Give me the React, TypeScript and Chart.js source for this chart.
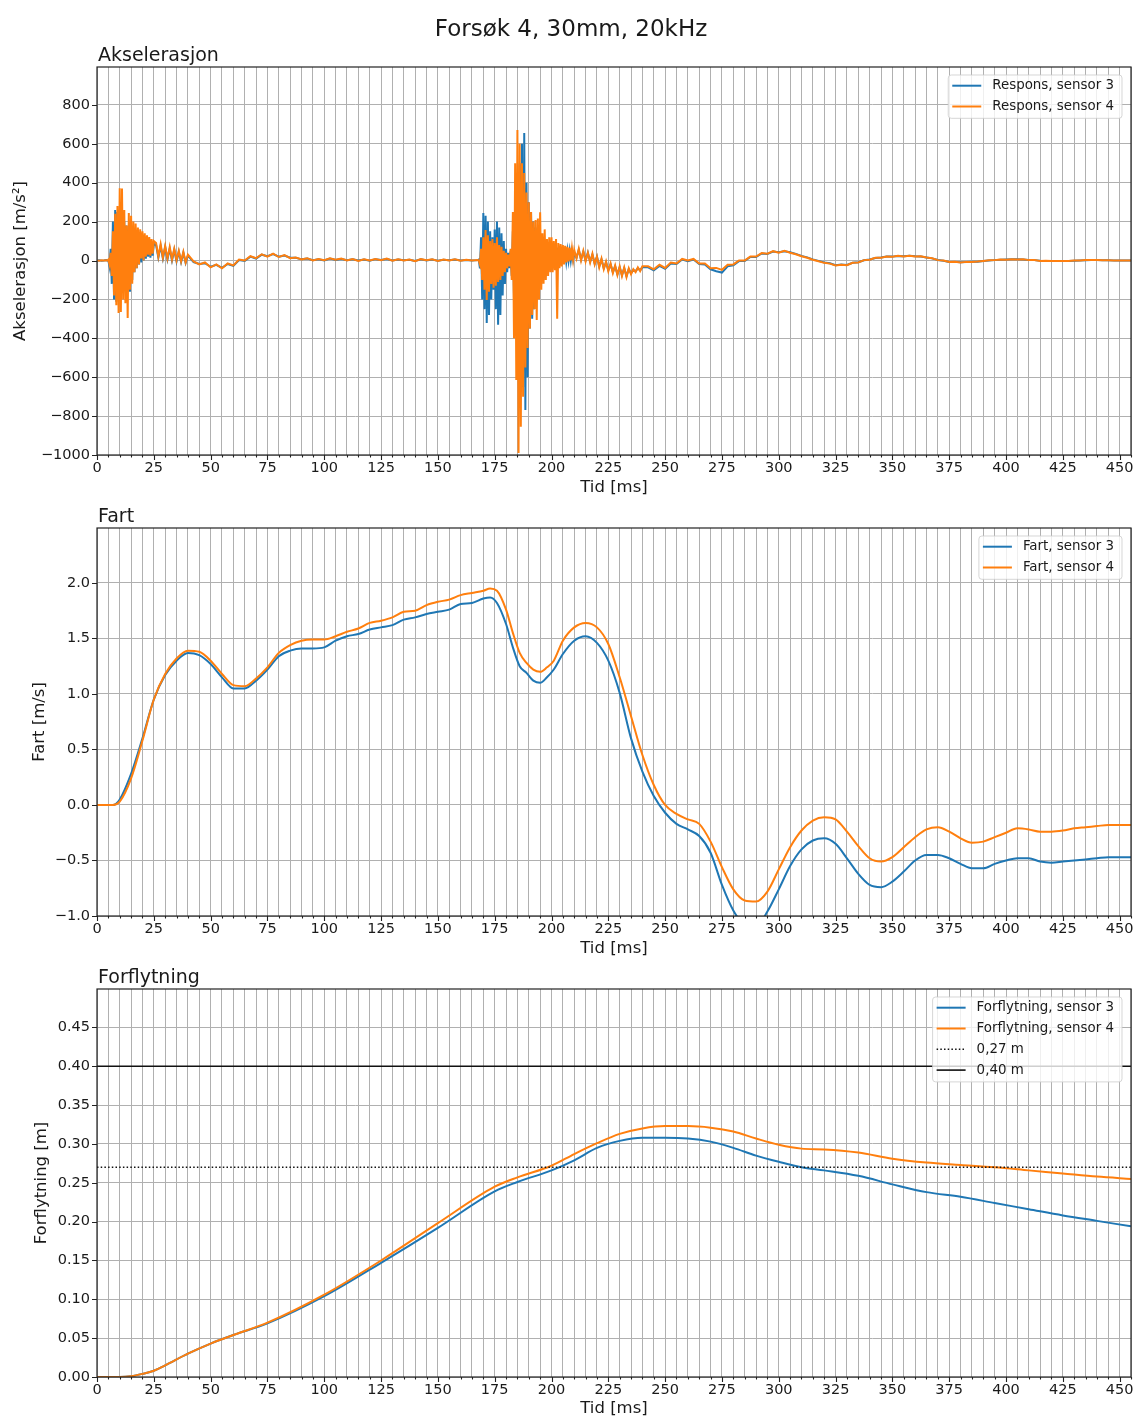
import React, { useEffect, useRef } from 'react';
import { Chart, registerables } from 'chart.js';

Chart.register(...registerables);

const FONT = '"DejaVu Sans", "Liberation Sans", sans-serif';
const TEXT = '#1a1a1a';
const GRID = '#b0b0b0';
const BLUE = '#1f77b4';
const ORANGE = '#ff7f0e';
const X_MAX = 455;

// ---------- Acceleration (m/s^2), piecewise sampled segments ----------
const accSegStart = [0, 4.5, 26, 42.5, 168, 211, 242.5];
const accSegStep = [1, 0.5, 1, 2.5, 0.5, 1, 2.5];

const accA3 = [0, 1, -1, 0, 2];
const accA4 = [0, -1, 1, 0, 1];

const accB3 = [0, 0, -30, 60, -120, 200, -200, 260, -212, 250, -190, 230, -170, 210, -150, 200, -140, 180, -130, 160, -160, 170, -100, 150, -60, 140, -40, 150, -20, 130, -10, 120, 0, 110, 10, 100, 20, 95, 15, 90, 25, 85];
const accB4 = [0, 5, -20, 40, -80, 150, -180, 240, -230, 280, -270, 372, -265, 370, -200, 260, -220, 180, -296, 244, -150, 230, -120, 200, -60, 190, -40, 170, -20, 160, 10, 150, 0, 140, 20, 130, 30, 120, 25, 110, 35, 100];

const accC3 = [80, 15, 75, 10, 70, 5, 60, 0, 55, -5, 45, -8, 40, -12, 25];
const accC4 = [90, 20, 85, 15, 75, 10, 70, 5, 60, 0, 50, -5, 45, -10, 30];

const accD3 = [-8, -18, -14, -32, -22, -38, -18, -28, 2, -2, 20, 10, 30, 22, 33, 20, 26, 14, 14, 6, 10, 2, 6, 0, 10, 3, 8, 1, 6, 0, 5, -1, 7, 3, 8, 0, 5, 1, 4, -2, 6, 0, 5, -1, 4, 1, 5, 0, 3, 0, 2];
const accD4 = [-5, -20, -10, -35, -20, -40, -15, -25, 5, 0, 22, 12, 32, 20, 35, 18, 28, 12, 15, 5, 12, 0, 8, 2, 12, 4, 10, 0, 8, -2, 6, 0, 8, 2, 10, -1, 6, 0, 5, -3, 7, 1, 6, -2, 5, 0, 6, -1, 4, 0, 3];

const accE3 = [5, -40, 120, -200, 244, -250, 230, -321, 200, -280, 150, -200, 120, -150, 160, -250, 200, -330, 170, -280, 140, -180, 100, -120, 60, -60, 40, -40, 50, -80, 150, -200, 300, -350, 400, -500, 500, -550, 600, -650, 655, -769, 400, -600, 300, -350, 250, -300, 200, -250, 170, -180, 150, -150, 130, -120, 110, -100, 100, -80, 90, -60, 85, -50, 80, -40, 75, -30, 70, -25, 65, -20, 60, -15, 55, -10, 55, -5, 50, 0, 50, 0, 45, 5, 40];
const accE4 = [0, -20, 60, -100, 120, -150, 157, -203, 130, -160, 100, -120, 110, -140, 90, -130, 120, -110, 80, -100, 70, -80, 50, -60, 40, -40, 30, -30, 60, -100, 250, -400, 500, -614, 671, -990, 600, -855, 500, -700, 450, -550, 350, -450, 300, -350, 250, -280, 200, -250, 208, -306, 216, -200, 248, -150, 140, -120, 160, -100, 110, -80, 120, -60, 120, -60, 100, -50, 110, -300, 90, -40, 85, -30, 80, -20, 75, -10, 70, -5, 65, 0, 60, 5, 55];

const accF3 = [15, 55, 5, 45, 0, 40, -5, 30, -15, 20, -30, 5, -40, -10, -50, -20, -60, -30, -70, -35, -75, -40, -80, -45, -65, -50, -55, -40, -50, -35];
const accF4 = [10, 60, 0, 50, -5, 40, -10, 35, -20, 20, -35, 10, -45, -5, -55, -15, -65, -25, -75, -30, -80, -35, -85, -40, -70, -45, -60, -35, -55, -30];

const accG3 = [-35, -50, -28, -42, -15, -18, 5, -3, 5, -18, -20, -45, -55, -62, -30, -25, -3, -2, 18, 18, 36, 34, 46, 42, 48, 42, 34, 24, 16, 6, -2, -10, -14, -24, -21, -23, -12, -9, 1, 5, 13, 15, 20, 20, 23, 22, 24, 22, 21, 16, 11, 3, -1, -7, -7, -9, -8, -6, -6, -2, 0, 2, 4, 5, 6, 6, 5, 3, 2, -1, -2, -3, -3, -2, -2, -1, 0, 1, 2, 2, 1, 1, 0, 0, 0, 0];
const accG4 = [-30, -45, -22, -38, -10, -15, 8, 0, 8, -15, -15, -40, -38, -48, -22, -20, 0, 0, 20, 20, 38, 35, 48, 40, 50, 40, 32, 22, 14, 4, -4, -12, -16, -26, -22, -24, -12, -10, 2, 4, 14, 14, 21, 19, 24, 21, 25, 21, 22, 15, 12, 2, 0, -8, -6, -10, -7, -7, -5, -2, 1, 2, 5, 4, 7, 5, 6, 2, 2, -2, -1, -3, -3, -2, -2, 0, 0, 2, 2, 2, 1, 1, 0, 0, 0, 0];

const acc3Segs = [accA3, accB3, accC3, accD3, accE3, accF3, accG3];
const acc4Segs = [accA4, accB4, accC4, accD4, accE4, accF4, accG4];

// ---------- Velocity (m/s) ----------
const velT = [0, 7, 10, 15, 20, 25, 30, 35, 40, 45, 50, 55, 60, 65, 70, 75, 80, 85, 90, 95, 100, 105, 110, 115, 120, 125, 130, 135, 140, 145, 150, 155, 160, 165, 170, 173, 176, 180, 183, 186, 189, 192, 195, 198, 201, 205, 210, 215, 220, 225, 230, 235, 240, 245, 250, 255, 260, 265, 270, 275, 280, 285, 290, 295, 300, 305, 310, 315, 320, 325, 330, 335, 340, 345, 350, 355, 360, 365, 370, 375, 380, 385, 390, 395, 400, 405, 410, 415, 420, 425, 430, 435, 440, 445, 450, 455];
const vel3 = [0, 0, 0.05, 0.28, 0.6, 0.95, 1.17, 1.3, 1.37, 1.35, 1.27, 1.15, 1.05, 1.05, 1.12, 1.22, 1.34, 1.39, 1.41, 1.41, 1.42, 1.48, 1.52, 1.54, 1.58, 1.6, 1.62, 1.67, 1.69, 1.72, 1.74, 1.76, 1.81, 1.82, 1.86, 1.87, 1.82, 1.63, 1.42, 1.25, 1.19, 1.12, 1.1, 1.15, 1.22, 1.36, 1.48, 1.52, 1.46, 1.3, 1.01, 0.6, 0.3, 0.08, -0.07, -0.17, -0.22, -0.28, -0.43, -0.72, -0.95, -1.08, -1.1, -0.96, -0.76, -0.55, -0.4, -0.32, -0.3, -0.35, -0.48, -0.62, -0.72, -0.74, -0.69, -0.6, -0.5, -0.45, -0.45, -0.48, -0.53, -0.57, -0.57, -0.53, -0.5, -0.48, -0.48, -0.51, -0.52, -0.51, -0.5, -0.49, -0.48, -0.47, -0.47, -0.47];
const vel4 = [0, 0, 0.03, 0.24, 0.58, 0.95, 1.18, 1.32, 1.39, 1.38, 1.3, 1.18, 1.08, 1.07, 1.14, 1.24, 1.37, 1.44, 1.48, 1.49, 1.49, 1.52, 1.56, 1.59, 1.64, 1.66, 1.69, 1.74, 1.75, 1.8, 1.83, 1.85, 1.89, 1.91, 1.93, 1.95, 1.93, 1.76, 1.55, 1.37, 1.28, 1.22, 1.2, 1.24, 1.3, 1.48, 1.6, 1.64, 1.6, 1.45, 1.15, 0.8, 0.45, 0.18, 0.0, -0.08, -0.13, -0.17, -0.33, -0.56, -0.76, -0.86, -0.87, -0.78, -0.58, -0.38, -0.23, -0.14, -0.11, -0.13, -0.24, -0.37, -0.48, -0.51, -0.47, -0.38, -0.29, -0.22, -0.2, -0.24, -0.3, -0.34, -0.33, -0.29, -0.25, -0.21, -0.22, -0.24, -0.24, -0.23, -0.21, -0.2, -0.19, -0.18, -0.18, -0.18];

// ---------- Displacement (m) ----------
const dispT = [0, 10, 15, 20, 25, 30, 40, 50, 60, 75, 100, 125, 150, 175, 185, 200, 210, 220, 230, 240, 250, 260, 270, 280, 290, 300, 310, 320, 335, 350, 365, 380, 395, 410, 425, 440, 455];
const disp3 = [0, 0, 0.001, 0.004, 0.008, 0.015, 0.03, 0.043, 0.054, 0.069, 0.104, 0.147, 0.192, 0.239, 0.251, 0.266, 0.279, 0.295, 0.304, 0.308, 0.308, 0.307, 0.303, 0.295, 0.285, 0.277, 0.27, 0.266, 0.259, 0.248, 0.238, 0.232, 0.224, 0.216, 0.208, 0.201, 0.194];
const disp4 = [0, 0, 0.001, 0.004, 0.008, 0.015, 0.03, 0.043, 0.054, 0.07, 0.106, 0.15, 0.198, 0.245, 0.257, 0.272, 0.287, 0.301, 0.313, 0.32, 0.323, 0.323, 0.321, 0.316, 0.307, 0.299, 0.294, 0.293, 0.289, 0.281, 0.276, 0.273, 0.27, 0.266, 0.262, 0.258, 0.255];
const limitLow = 0.27;
const limitHigh = 0.4;

// ---------- Tick values ----------
const accTicks = [-1000, -800, -600, -400, -200, 0, 200, 400, 600, 800];
const velTicks = [-1, -0.5, 0, 0.5, 1, 1.5, 2];
const dispTicks = [0, 0.05, 0.1, 0.15, 0.2, 0.25, 0.3, 0.35, 0.4, 0.45];

// ---------- Labels ----------
const SUPTITLE = 'Forsøk 4, 30mm, 20kHz';
const accLabels = ['Respons, sensor 3', 'Respons, sensor 4'];
const velLabels = ['Fart, sensor 3', 'Fart, sensor 4'];
const dispLabels = ['Forflytning, sensor 3', 'Forflytning, sensor 4', '0,27 m', '0,40 m'];

function buildSegments(segs: number[][]) {
  const out: { x: number; y: number }[] = [];
  segs.forEach((vals, si) => {
    vals.forEach((v, i) => out.push({ x: accSegStart[si] + i * accSegStep[si], y: v }));
  });
  return out;
}
function zip(t: number[], v: number[]) {
  return v.map((y, i) => ({ x: t[i], y }));
}
const minus = (s: string) => s.replace('-', '\u2212');

type LegendItem = { label: string; color: string; width: number; dash?: number[] };

function framePlugin(title: string, legend: LegendItem[], suptitle?: string) {
  return {
    id: 'frame',
    afterDraw(chart: any) {
      const { ctx, chartArea: a, scales } = chart;
      ctx.save();
      ctx.setLineDash([]);
      // tick marks
      ctx.strokeStyle = '#222';
      ctx.lineWidth = 1.1;
      ctx.beginPath();
      scales.x.ticks.forEach((t: any) => {
        const p = Math.round(scales.x.getPixelForValue(t.value)) + 0.5;
        const major = Math.abs(t.value % 25) < 1e-6;
        ctx.moveTo(p, a.bottom);
        ctx.lineTo(p, a.bottom + (major ? 5 : 2.5));
      });
      scales.y.ticks.forEach((t: any) => {
        const p = Math.round(scales.y.getPixelForValue(t.value)) + 0.5;
        ctx.moveTo(a.left - 5, p);
        ctx.lineTo(a.left, p);
      });
      ctx.stroke();
      // spines
      ctx.lineWidth = 1.2;
      ctx.strokeRect(a.left, a.top, a.right - a.left, a.bottom - a.top);
      // titles
      ctx.fillStyle = TEXT;
      ctx.textBaseline = 'alphabetic';
      if (suptitle) {
        ctx.font = `23px ${FONT}`;
        ctx.textAlign = 'center';
        ctx.fillText(suptitle, 571, 35.5);
      }
      ctx.font = `19px ${FONT}`;
      ctx.textAlign = 'left';
      ctx.fillText(title, a.left + 1, a.top - 6.5);
      // legend
      const fs = 13.4;
      ctx.font = `${fs}px ${FONT}`;
      const tw = Math.max(...legend.map((it) => ctx.measureText(it.label).width));
      const right = a.right - 9;
      const top = a.top + 8;
      const w = tw + 52;
      const h = (legend.length - 1) * 20.8 + 22.5;
      const left = right - w;
      ctx.beginPath();
      const r = 3;
      ctx.moveTo(left + r, top);
      ctx.lineTo(right - r, top);
      ctx.quadraticCurveTo(right, top, right, top + r);
      ctx.lineTo(right, top + h - r);
      ctx.quadraticCurveTo(right, top + h, right - r, top + h);
      ctx.lineTo(left + r, top + h);
      ctx.quadraticCurveTo(left, top + h, left, top + h - r);
      ctx.lineTo(left, top + r);
      ctx.quadraticCurveTo(left, top, left + r, top);
      ctx.closePath();
      ctx.fillStyle = 'rgba(255,255,255,0.8)';
      ctx.fill();
      ctx.strokeStyle = 'rgba(204,204,204,0.8)';
      ctx.lineWidth = 1;
      ctx.stroke();
      legend.forEach((it, i) => {
        const cy = top + 10.7 + i * 20.8;
        ctx.strokeStyle = it.color;
        ctx.lineWidth = it.width;
        ctx.setLineDash(it.dash || []);
        ctx.beginPath();
        ctx.moveTo(left + 4, cy);
        ctx.lineTo(left + 33, cy);
        ctx.stroke();
        ctx.setLineDash([]);
        ctx.fillStyle = TEXT;
        ctx.textAlign = 'left';
        ctx.textBaseline = 'middle';
        ctx.fillText(it.label, left + 44, cy);
      });
      ctx.restore();
    },
  };
}

function makeOptions(p: {
  ticks: number[]; ymin: number; ymax: number; fmt: (v: number) => string;
  ylabel: string; yTitlePad: number; padTop: number; xHeight: number; xTitlePad: number;
}): any {
  return {
    responsive: false,
    animation: false,
    events: [],
    layout: { padding: { top: p.padTop, right: 4, left: 0, bottom: 0 } },
    plugins: { legend: { display: false }, tooltip: { enabled: false }, title: { display: false } },
    elements: { point: { radius: 0 } },
    scales: {
      x: {
        type: 'linear',
        min: 0,
        max: X_MAX,
        ticks: {
          stepSize: 5,
          autoSkip: false,
          maxRotation: 0,
          minRotation: 0,
          includeBounds: false,
          padding: 5,
          color: TEXT,
          font: { size: 14.5, family: FONT },
          callback: (v: number) => (Math.abs(v % 25) < 1e-6 ? String(Math.round(v)) : ''),
        },
        grid: { color: GRID, lineWidth: 1, drawTicks: false },
        border: { display: false },
        title: {
          display: true,
          text: 'Tid [ms]',
          color: TEXT,
          font: { size: 16.5, family: FONT },
          padding: { top: 0, bottom: p.xTitlePad },
        },
        afterFit: (s: any) => {
          s.height = p.xHeight;
          s.paddingLeft = 0;
          s.paddingRight = 0;
        },
      },
      y: {
        type: 'linear',
        min: p.ymin,
        max: p.ymax,
        afterBuildTicks: (s: any) => {
          s.ticks = p.ticks.map((v) => ({ value: v }));
        },
        ticks: {
          padding: 7,
          color: TEXT,
          font: { size: 14.5, family: FONT },
          callback: (v: number) => p.fmt(v),
        },
        grid: { color: GRID, lineWidth: 1, drawTicks: false },
        border: { display: false },
        title: {
          display: true,
          text: p.ylabel,
          color: TEXT,
          font: { size: 16.5, family: FONT },
          padding: { top: p.yTitlePad, bottom: 0 },
        },
        afterFit: (s: any) => {
          s.width = 97;
          s.paddingTop = 0;
          s.paddingBottom = 0;
        },
      },
    },
  };
}

function lineDs(label: string, data: any[], color: string, order: number, smooth: boolean, width = 2, dash: number[] = []) {
  return {
    label,
    data,
    borderColor: color,
    backgroundColor: color,
    borderWidth: width,
    borderDash: dash,
    pointRadius: 0,
    fill: false,
    order,
    tension: smooth ? 0.4 : 0,
    cubicInterpolationMode: smooth ? 'monotone' : 'default',
  };
}

export default function App() {
  const r1 = useRef<HTMLCanvasElement>(null);
  const r2 = useRef<HTMLCanvasElement>(null);
  const r3 = useRef<HTMLCanvasElement>(null);

  useEffect(() => {
    document.body.style.margin = '0';
    Chart.defaults.font.family = FONT;

    const accChart = new Chart(r1.current!, {
      type: 'line',
      data: {
        datasets: [
          lineDs(accLabels[0], buildSegments(acc3Segs), BLUE, 2, false, 2),
          lineDs(accLabels[1], buildSegments(acc4Segs), ORANGE, 1, false, 2),
        ],
      },
      options: makeOptions({
        ticks: accTicks, ymin: -1000, ymax: 995, fmt: (v) => minus(String(Math.round(v))),
        ylabel: 'Akselerasjon [m/s²]', yTitlePad: 11, padTop: 67, xHeight: 50, xTitlePad: 7,
      }),
      plugins: [
        framePlugin('Akselerasjon', [
          { label: accLabels[0], color: BLUE, width: 2 },
          { label: accLabels[1], color: ORANGE, width: 2 },
        ], SUPTITLE),
      ],
    } as any);

    const velChart = new Chart(r2.current!, {
      type: 'line',
      data: {
        datasets: [
          lineDs(velLabels[0], zip(velT, vel3), BLUE, 2, true),
          lineDs(velLabels[1], zip(velT, vel4), ORANGE, 1, true),
        ],
      },
      options: makeOptions({
        ticks: velTicks, ymin: -1, ymax: 2.495, fmt: (v) => minus(v.toFixed(1)),
        ylabel: 'Fart [m/s]', yTitlePad: 30, padTop: 23, xHeight: 50, xTitlePad: 7,
      }),
      plugins: [
        framePlugin('Fart', [
          { label: velLabels[0], color: BLUE, width: 2 },
          { label: velLabels[1], color: ORANGE, width: 2 },
        ]),
      ],
    } as any);

    const dispChart = new Chart(r3.current!, {
      type: 'line',
      data: {
        datasets: [
          lineDs(dispLabels[0], zip(dispT, disp3), BLUE, 3, true),
          lineDs(dispLabels[1], zip(dispT, disp4), ORANGE, 2, true),
          lineDs(dispLabels[2], [{ x: 0, y: limitLow }, { x: X_MAX, y: limitLow }], '#111', 1, false, 1.4, [1.5, 2.2]),
          lineDs(dispLabels[3], [{ x: 0, y: limitHigh }, { x: X_MAX, y: limitHigh }], '#111', 0, false, 1.6),
        ],
      },
      options: makeOptions({
        ticks: dispTicks, ymin: 0, ymax: 0.4995, fmt: (v) => minus(v.toFixed(2)),
        ylabel: 'Forflytning [m]', yTitlePad: 32, padTop: 23, xHeight: 42, xTitlePad: 0,
      }),
      plugins: [
        framePlugin('Forflytning', [
          { label: dispLabels[0], color: BLUE, width: 2 },
          { label: dispLabels[1], color: ORANGE, width: 2 },
          { label: dispLabels[2], color: '#111', width: 1.4, dash: [1.5, 2.2] },
          { label: dispLabels[3], color: '#111', width: 1.6 },
        ]),
      ],
    } as any);

    return () => {
      accChart.destroy();
      velChart.destroy();
      dispChart.destroy();
    };
  }, []);

  const cs = (top: number, h: number): React.CSSProperties => ({
    position: 'absolute', left: 0, top, width: 1135, height: h, display: 'block',
  });

  return (
    <div style={{ position: 'absolute', left: 0, top: 0, width: 1135, height: 1419, background: '#fff', overflow: 'hidden' }}>
      <canvas ref={r1} width={1135} height={505} style={cs(0, 505)} />
      <canvas ref={r2} width={1135} height={461} style={cs(505, 461)} />
      <canvas ref={r3} width={1135} height={453} style={cs(966, 453)} />
    </div>
  );
}
